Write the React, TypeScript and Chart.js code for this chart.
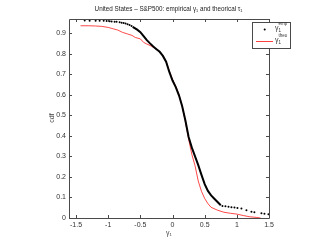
import React, { useEffect, useRef } from "react";
import { Chart, registerables } from "chart.js";

Chart.register(...registerables);

const xTicks = [-1.5, -1, -0.5, 0, 0.5, 1, 1.5];
const yTicks = [0, 0.1, 0.2, 0.3, 0.4, 0.5, 0.6, 0.7, 0.8, 0.9];

// empirical: sparse dots at upper-left tail
const empTopX = [-1.366, -1.289, -1.196, -1.134, -1.071, -1.025, -0.978, -0.947, -0.901, -0.87, -0.823, -0.792, -0.761, -0.73, -0.699, -0.668, -0.637];
const empTopY = [0.963, 0.962, 0.962, 0.961, 0.961, 0.96, 0.959, 0.958, 0.957, 0.956, 0.954, 0.952, 0.95, 0.948, 0.945, 0.941, 0.936];
// empirical: dense middle part
const empMidX = [-0.62, -0.55, -0.5, -0.45, -0.4, -0.35, -0.3, -0.25, -0.2, -0.15, -0.1, -0.05, 0, 0.05, 0.1, 0.15, 0.2, 0.25, 0.3, 0.35, 0.4, 0.45, 0.5, 0.55, 0.6, 0.65, 0.7, 0.75];
const empMidY = [0.932, 0.918, 0.906, 0.887, 0.867, 0.851, 0.836, 0.823, 0.81, 0.79, 0.762, 0.712, 0.67, 0.638, 0.598, 0.545, 0.475, 0.395, 0.343, 0.3, 0.258, 0.21, 0.165, 0.132, 0.11, 0.094, 0.078, 0.062];
// empirical: sparse dots at lower-right tail
const empBotX = [0.776, 0.823, 0.87, 0.916, 0.963, 1.009, 1.071, 1.149, 1.227, 1.273, 1.382, 1.429, 1.491];
const empBotY = [0.059, 0.057, 0.055, 0.053, 0.051, 0.049, 0.046, 0.038, 0.03, 0.028, 0.023, 0.021, 0.018];

// theoretical
const theoX = [-1.43, -1.3, -1.2, -1.1, -1.0, -0.92, -0.85, -0.78, -0.7, -0.63, -0.58, -0.5, -0.45, -0.4, -0.33, -0.25, -0.2, -0.15, -0.1, -0.05, 0, 0.05, 0.1, 0.15, 0.2, 0.25, 0.3, 0.35, 0.4, 0.45, 0.5, 0.55, 0.6, 0.7, 0.8, 0.9, 1.0, 1.1, 1.2, 1.3, 1.37];
const theoY = [0.937, 0.937, 0.936, 0.934, 0.929, 0.922, 0.916, 0.905, 0.897, 0.89, 0.88, 0.873, 0.856, 0.848, 0.838, 0.823, 0.808, 0.79, 0.763, 0.716, 0.675, 0.642, 0.602, 0.545, 0.47, 0.385, 0.31, 0.255, 0.18, 0.13, 0.095, 0.07, 0.052, 0.038, 0.028, 0.023, 0.019, 0.012, 0.006, 0.003, 0];

const zip = (xs: number[], ys: number[]) => xs.map((x, i) => ({ x, y: ys[i] }));

const FONT = "'Liberation Sans', Arial, sans-serif";
const AXIS = "#4a4a4a";
const RED = "#ff4040";

const decor = {
  id: "decor",
  afterDatasetsDraw(chart: any) {
    const { ctx, chartArea: a, scales } = chart;
    const xs = scales.x, ys = scales.y;
    ctx.save();
    ctx.strokeStyle = AXIS;
    ctx.lineWidth = 1;
    ctx.beginPath();
    ctx.rect(Math.round(a.left) + 0.5, Math.round(a.top) + 0.5, Math.round(a.right - a.left), Math.round(a.bottom - a.top));
    ctx.stroke();
    const tl = 3;
    ctx.beginPath();
    for (const v of xTicks) {
      const px = Math.round(xs.getPixelForValue(v)) + 0.5;
      ctx.moveTo(px, a.bottom); ctx.lineTo(px, a.bottom - tl);
      ctx.moveTo(px, a.top); ctx.lineTo(px, a.top + tl);
    }
    for (const v of yTicks) {
      const py = Math.round(ys.getPixelForValue(v)) + 0.5;
      ctx.moveTo(a.left, py); ctx.lineTo(a.left + tl, py);
      ctx.moveTo(a.right, py); ctx.lineTo(a.right - tl, py);
    }
    ctx.stroke();
    ctx.restore();
  },
  afterDraw(chart: any) {
    const { ctx, chartArea: a } = chart;
    ctx.save();
    ctx.fillStyle = "#222";
    // title
    ctx.font = `6.3px ${FONT}`;
    ctx.textAlign = "center";
    ctx.textBaseline = "middle";
    ctx.fillText("United States – S&P500: empirical γ₁ and theorical τ₁", 168.5, 9);
    // x title
    ctx.font = `7px ${FONT}`;
    ctx.fillStyle = "#444";
    ctx.fillText("γ₁", (a.left + a.right) / 2, 233);
    // y title
    ctx.save();
    ctx.translate(52, 118);
    ctx.rotate(-Math.PI / 2);
    ctx.fillText("cdf", 0, 0);
    ctx.restore();
    // legend
    const lx = 252.5, ly = 22.5, lw = 38, lh = 26;
    ctx.fillStyle = "#fff";
    ctx.fillRect(lx, ly, lw, lh);
    ctx.strokeStyle = AXIS;
    ctx.lineWidth = 1;
    ctx.strokeRect(lx, ly, lw, lh);
    ctx.fillStyle = "#000";
    ctx.beginPath();
    ctx.arc(264.7, 29.5, 1, 0, Math.PI * 2);
    ctx.fill();
    ctx.beginPath();
    ctx.strokeStyle = RED;
    ctx.lineWidth = 1;
    ctx.moveTo(256, 41.5);
    ctx.lineTo(273, 41.5);
    ctx.stroke();
    const entry = (y: number, sup: string) => {
      ctx.fillStyle = "#333";
      ctx.textAlign = "left";
      ctx.textBaseline = "alphabetic";
      ctx.font = `7px ${FONT}`;
      ctx.fillText("γ", 275, y);
      const w = ctx.measureText("γ").width;
      ctx.font = `4.5px ${FONT}`;
      ctx.fillText("1", 275 + w, y + 2);
      ctx.fillText(sup, 275 + w, y - 5);
    };
    entry(30, "emp");
    entry(41.5, "theo");
    ctx.restore();
  },
};

export default function App() {
  const ref = useRef<HTMLCanvasElement>(null);
  useEffect(() => {
    document.body.style.margin = "0";
    const chart = new Chart(ref.current!, {
      type: "scatter",
      data: {
        datasets: [
          {
            label: "emp-mid",
            data: zip(empMidX, empMidY),
            showLine: true,
            borderColor: "#000",
            borderWidth: 2,
            pointRadius: 0,
          },
          {
            label: "emp-tails",
            data: [...zip(empTopX, empTopY), ...zip(empBotX, empBotY)],
            showLine: false,
            pointRadius: 1,
            pointBorderWidth: 0,
            pointBackgroundColor: "#000",
          },
          {
            label: "theo",
            data: zip(theoX, theoY),
            showLine: true,
            borderColor: "rgba(255,40,40,0.85)",
            borderWidth: 1,
            pointRadius: 0,
          },
        ],
      },
      options: {
        animation: false,
        responsive: false,
        devicePixelRatio: 1,
        layout: { padding: { left: 0, right: 58, top: 19, bottom: 0 } },
        plugins: { legend: { display: false }, tooltip: { enabled: false }, title: { display: false } },
        scales: {
          x: {
            type: "linear",
            min: -1.61,
            max: 1.5,
            afterFit: (s: any) => { s.height = 28; },
            afterBuildTicks: (s: any) => { s.ticks = xTicks.map((v) => ({ value: v })); },
            grid: { display: false, drawTicks: false },
            border: { display: false },
            ticks: { padding: 3, color: "#333", font: { family: FONT, size: 7 }, callback: (v: any) => String(v), maxRotation: 0, autoSkip: false },
          },
          y: {
            type: "linear",
            min: 0,
            max: 0.97,
            afterFit: (s: any) => { s.width = 69; },
            afterBuildTicks: (s: any) => { s.ticks = yTicks.map((v) => ({ value: v })); },
            grid: { display: false, drawTicks: false },
            border: { display: false },
            ticks: { padding: 3, color: "#333", font: { family: FONT, size: 7 }, callback: (v: any) => String(v), autoSkip: false },
          },
        },
      },
      plugins: [decor],
    });
    return () => chart.destroy();
  }, []);
  return (
    <div style={{ position: "fixed", left: 0, top: 0, width: 327, height: 246, background: "#fff" }}>
      <canvas ref={ref} width={327} height={246} style={{ width: 327, height: 246 }} />
    </div>
  );
}
